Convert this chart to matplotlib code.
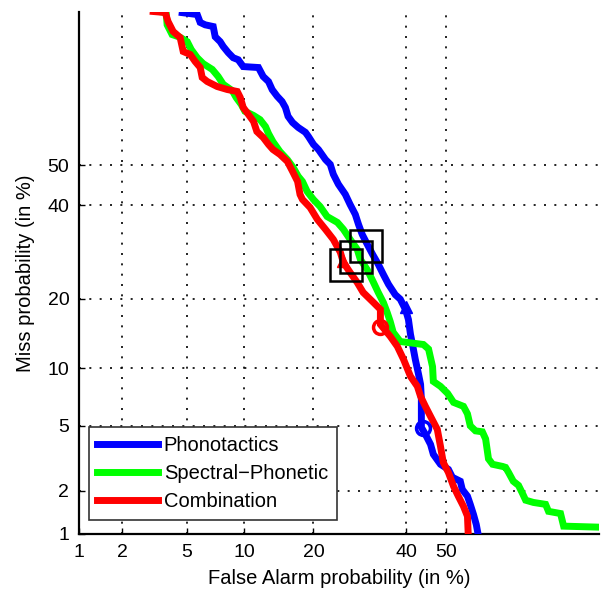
from statistics import NormalDist

import numpy as np
import matplotlib
matplotlib.use('Agg')
import matplotlib.pyplot as plt

plt.rcParams['font.family'] = ['Liberation Sans', 'DejaVu Sans']

# DET curves, false alarm / miss probability in %
blue_fa = [4.72, 5.73, 5.95, 6.33, 6.99, 7.16, 7.6, 7.88, 8.36, 8.85, 9.37, 9.91, 11.7, 12.3, 13, 13.5,
           14.2, 14.9, 15.4, 15.8, 16.5, 17.4, 18.6, 19.1, 20, 20.9, 22.2, 23.1, 23.7, 24.7, 26.1, 27.1,
           28.2, 28.9, 29.7, 30.8, 32, 33.3, 34.5, 35.7, 37.3, 38.5, 39.8, 40.5, 41, 41.5, 42.2, 43,
           43.5, 43.7, 43.7, 44.7, 46, 46.7, 48.5, 50.5, 51.5, 53.5, 54, 55.3, 56, 56.8, 57.5, 58]
blue_miss = [83.2, 82.9, 81.6, 81.2, 80.9, 79.1, 78.2, 77.3, 76.1, 75.1, 74.7, 73.3, 73.1, 71.2, 70.1,
             68.3, 66.8, 65.6, 64.2, 62.1, 60.6, 59.4, 58.2, 57.2, 55.2, 53.9, 51.4, 50.2, 47.7, 45.2,
             42.7, 40.2, 37.8, 35.4, 33.1, 30.9, 28.7, 26.6, 24.5, 22.6, 20.7, 19.9, 18.1, 16.5, 14.3,
             12.9, 11, 9.35, 8.34, 6.98, 4.91, 4.48, 3.91, 3.41, 2.96, 2.75, 2.45, 2.31, 2.04, 1.84,
             1.62, 1.38, 1.17, 0.978]

green_fa = [3.4, 3.8, 3.85, 4.12, 4.59, 5.04, 5.31, 5.73, 6.18, 6.91, 7.42, 7.88, 8.75, 9.16, 9.7, 10.1,
            11.1, 11.9, 12.6, 13, 13.6, 14.6, 15.7, 16.6, 17.4, 18.1, 18.9, 20, 21.2, 22.5, 24.5, 25.7,
            27.1, 28.6, 29.3, 30.8, 32.2, 33.3, 34.5, 35.4, 36.1, 36.8, 38.5, 44.2, 45.5, 46.5, 46.7,
            48.5, 50.3, 51.8, 54.3, 55.3, 56, 57.3, 59, 59.8, 60.5, 61.5, 63.9, 64.6, 65.3, 66.4, 67.6,
            68.5, 69.2, 70.9, 73.5, 74.1, 76.5, 77.1, 83.5]
green_miss = [83.4, 83.2, 81.2, 79.5, 79.0, 78.2, 76.7, 75.1, 73.9, 72.7, 71.2, 69.5, 68.1, 66.5, 64.9,
              63.3, 62.3, 61.3, 59.6, 57.9, 55.9, 53.4, 51.4, 49.4, 47.2, 45.9, 43.4, 41.4, 39.7, 37.3,
              35.9, 34.3, 32.0, 29.8, 27.6, 25.5, 23.0, 21.1, 19.3, 17.6, 16.2, 14.6, 13.3, 12.9, 12.3,
              10.2, 8.63, 8.15, 7.50, 6.73, 6.41, 5.84, 5.01, 4.69, 4.63, 4.21, 3.20, 2.96, 2.87, 2.83,
              2.63, 2.31, 2.17, 1.92, 1.73, 1.67, 1.62, 1.45, 1.40, 1.14, 1.12]

red_fa = [3.17, 3.75, 3.90, 4.18, 4.59, 4.78, 5.24, 5.58, 5.95, 6.10, 6.49, 7.33, 8.26, 9.27, 9.59, 9.91,
          10.5, 11.1, 11.5, 12.3, 13.0, 13.6, 14.6, 15.7, 16.5, 17.3, 17.7, 18.1, 19.4, 20.7, 22.2, 23.7,
          25.1, 25.7, 27.1, 28.6, 29.9, 32.2, 33.8, 33.8, 36.1, 37.8, 39.3, 41.0, 42.7, 43.5, 44.7, 46.0,
          47.7, 48.5, 49.2, 50.5, 51.8, 53.0, 54.3, 55.3, 55.5]
red_miss = [83.38, 83.22, 81.75, 80.04, 78.96, 76.33, 75.74, 74.34, 73.11, 70.99, 70.12, 69.01, 68.34,
            67.89, 66.53, 64.20, 62.54, 60.85, 58.41, 56.93, 55.19, 53.94, 52.69, 50.93, 48.42, 45.91,
            42.67, 41.44, 39.48, 36.60, 34.26, 31.97, 29.10, 26.98, 24.93, 22.98, 21.11, 19.33, 18.15,
            15.76, 14.01, 12.65, 11.03, 9.14, 8.15, 7.24, 6.41, 5.65, 4.78, 3.81, 3.04, 2.63, 2.14, 1.84,
            1.57, 1.34, 0.98]

# operating points (fa, miss)
box_pts = {'b': (30.6, 30.6), 'lime': (28.4, 28.2), 'r': (26.3, 26.4)}
tri_pts = {'b': (39.8, 18.5), 'r': (25.7, 27.2)}
circ_pts = {'b': (44.0, 4.9), 'r': (33.6, 15.3)}

labels = ['Phonotactics', 'Spectral\u2212Phonetic', 'Combination']
ticks = [1, 2, 5, 10, 20, 40, 50]
lim = (1, 83.3)

_nd = NormalDist()


def _ppf1(p):
    if not np.isfinite(p):
        return np.nan
    return _nd.inv_cdf(min(max(p / 100.0, 1e-9), 1 - 1e-9))


def _cdf1(z):
    if np.isnan(z):
        return np.nan
    return _nd.cdf(z) * 100.0


_ppf = np.vectorize(_ppf1, otypes=[float])
_cdf = np.vectorize(_cdf1, otypes=[float])


def probit(v):
    return _ppf(np.asarray(v, dtype=float))


def inv_probit(z):
    return _cdf(np.asarray(z, dtype=float))


fig = plt.figure(figsize=(6.01, 5.90), dpi=100)
ax = fig.add_axes([79 / 601, 56 / 590, 520 / 601, 522 / 590])
ax.set_xscale('function', functions=(probit, inv_probit))
ax.set_yscale('function', functions=(probit, inv_probit))

curves = [(blue_fa, blue_miss, 'b'), (green_fa, green_miss, 'lime'), (red_fa, red_miss, 'r')]
for (fa, miss, c), lab in zip(curves, labels):
    ax.plot(fa, miss, color=c, lw=5, label=lab, solid_joinstyle='miter', zorder=3)

for c, (x, y) in tri_pts.items():
    ax.plot(x, y, marker='^', color=c, ms=8, zorder=4)
for c, (x, y) in circ_pts.items():
    ax.plot(x, y, marker='o', mfc='none', mec=c, mew=2.5, ms=10, zorder=4)
for c, (x, y) in box_pts.items():
    ax.plot(x, y, marker='s', mfc='none', mec='k', mew=1.8, ms=23, zorder=5)

ax.set_xlim(*lim)
ax.set_ylim(*lim)
ax.set_xticks(ticks)
ax.set_yticks(ticks)
ax.set_xticklabels([str(t) for t in ticks])
ax.set_yticklabels([str(t) for t in ticks])
ax.minorticks_off()
ax.tick_params(direction='in', length=4, width=1, labelsize=14, pad=7)
ax.grid(True, color='k', linestyle=(0, (1.2, 5)), linewidth=1.2)

for s in ['top', 'right']:
    ax.spines[s].set_visible(False)
for s in ['left', 'bottom']:
    ax.spines[s].set_linewidth(1.6)

ax.set_xlabel('False Alarm probability (in %)', fontsize=14.5, labelpad=6)
ax.set_ylabel('Miss probability (in %)', fontsize=14.5, labelpad=9)

leg = ax.legend(loc='lower left', bbox_to_anchor=(0.019, 0.027), borderaxespad=0,
                fontsize=14.5, handlelength=3.0, handletextpad=0.3, labelspacing=0.46,
                borderpad=0.42, fancybox=False, framealpha=1)
leg.get_frame().set_edgecolor('#333333')
leg.get_frame().set_linewidth(1.2)

fig.savefig('out.png', dpi=100)
